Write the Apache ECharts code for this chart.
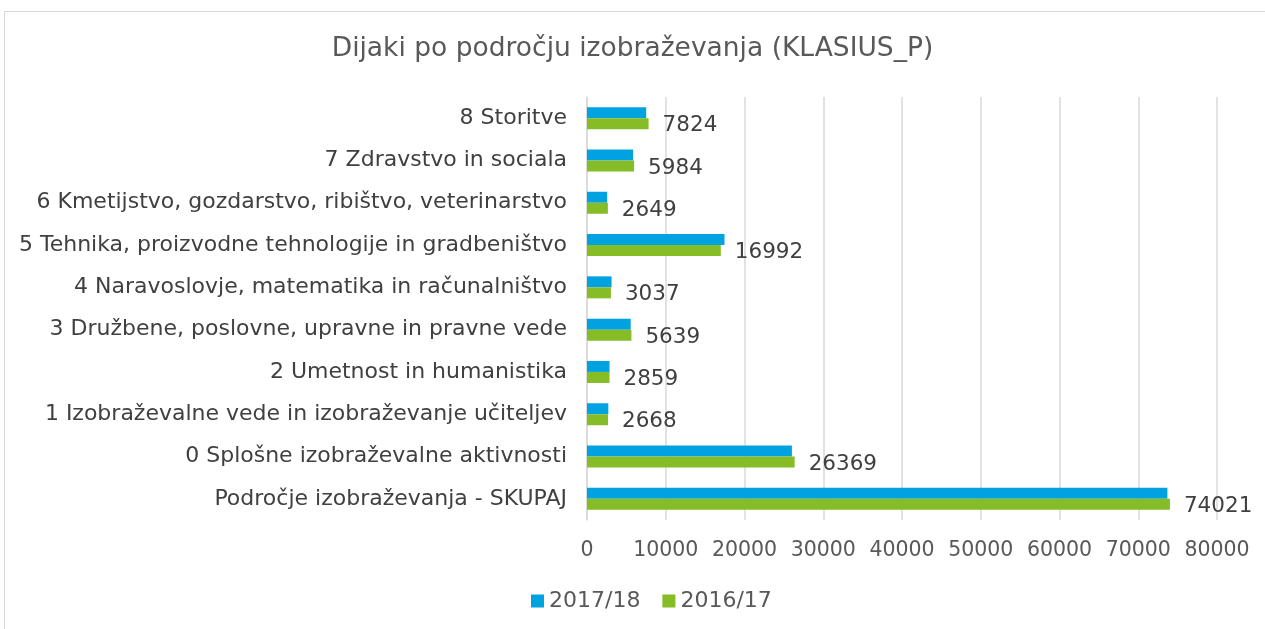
<!DOCTYPE html>
<html>
<head>
<meta charset="utf-8">
<script src="https://cdn.jsdelivr.net/npm/echarts@6/dist/echarts.min.js"></script>
<style>
  html, body { margin: 0; padding: 0; background: #fff; }
  #frame { position: absolute; left: 4px; top: 11px; width: 1300px; height: 700px; border: 1px solid #d9d9d9; }
  #chart { position: absolute; left: 0; top: 0; width: 1265px; height: 629px; }
</style>
</head>
<body>
<div id="frame"></div>
<div id="chart"></div>
<script>
// kategorije od spodaj navzgor
var categories = [
  'Področje izobraževanja - SKUPAJ',
  '0 Splošne izobraževalne aktivnosti',
  '1 Izobraževalne vede in izobraževanje učiteljev',
  '2 Umetnost in humanistika',
  '3 Družbene, poslovne, upravne in pravne vede',
  '4 Naravoslovje, matematika in računalništvo',
  '5 Tehnika, proizvodne tehnologije in gradbeništvo',
  '6 Kmetijstvo, gozdarstvo, ribištvo, veterinarstvo',
  '7 Zdravstvo in sociala',
  '8 Storitve'
];
var values1617 = [74021, 26369, 2668, 2859, 5639, 3037, 16992, 2649, 5984, 7824];
var values1718 = [73700, 26020, 2710, 2860, 5550, 3120, 17460, 2560, 5850, 7520];
var xTicks = [0, 10000, 20000, 30000, 40000, 50000, 60000, 70000, 80000];

var font = 'DejaVu Sans';
var chart = echarts.init(document.getElementById('chart'));
chart.setOption({
  animation: false,
  textStyle: { fontFamily: font },
  title: {
    text: 'Dijaki po področju izobraževanja (KLASIUS_P)',
    left: 'center',
    top: 31,
    textStyle: { fontFamily: font, fontSize: 26.5, fontWeight: 'normal', color: '#595959' }
  },
  legend: {
    data: ['2017/18', '2016/17'],
    bottom: 12,
    left: 526,
    itemWidth: 13,
    itemHeight: 13,
    itemGap: 22,
    icon: 'rect',
    textStyle: { fontFamily: font, fontSize: 22, color: '#595959' }
  },
  grid: { left: 587, right: 48, top: 97, bottom: 109, containLabel: false },
  xAxis: {
    type: 'value',
    min: xTicks[0],
    max: xTicks[xTicks.length - 1],
    interval: 10000,
    axisLine: { show: false },
    axisTick: { show: false },
    splitLine: { lineStyle: { color: '#d9d9d9', width: 1.5 } },
    axisLabel: { fontFamily: font, fontSize: 20.5, color: '#595959', margin: 20, formatter: function (v) { return String(v); } }
  },
  yAxis: {
    type: 'category',
    data: categories,
    axisLine: { lineStyle: { color: '#d9d9d9', width: 1.5 } },
    axisTick: { show: false },
    axisLabel: { fontFamily: font, fontSize: 22, color: '#404040', margin: 20 }
  },
  series: [
    {
      name: '2017/18',
      type: 'bar',
      data: values1718,
      barWidth: 11,
      barGap: '0%',
      itemStyle: { color: '#00a3e0' }
    },
    {
      name: '2016/17',
      type: 'bar',
      data: values1617,
      barWidth: 11,
      barGap: '0%',
      itemStyle: { color: '#86bc25' },
      label: {
        show: true,
        position: 'right',
        distance: 14,
        offset: [0, 2],
        fontFamily: font,
        fontSize: 21.5,
        color: '#404040'
      }
    }
  ]
});
</script>
</body>
</html>
